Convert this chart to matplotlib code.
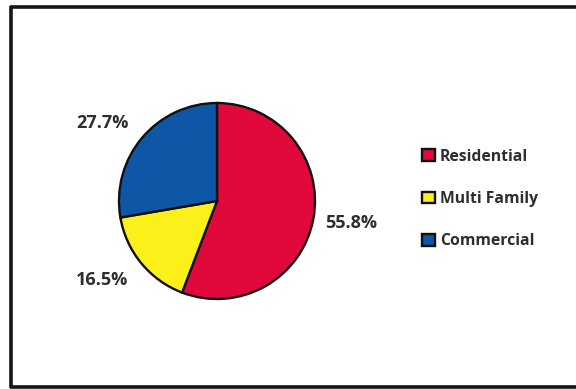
import matplotlib
matplotlib.use("Agg")
import numpy as np
import matplotlib.pyplot as plt
from matplotlib.lines import Line2D

categories = ["Residential", "Multi Family", "Commercial"]
shares = [55.8, 16.5, 27.7]
colors = ["#E1083C", "#FBF01A", "#0E56A6"]

# Label placement around the pie (radial distance, angular nudge in degrees)
label_dist = [1.39, 1.42, 1.41]
label_nudge = [1.0, -5.0, 6.0]

plt.rcParams["font.family"] = ["Open Sans", "DejaVu Sans"]
TEXT = "#2E2E2E"

W, H = 576, 389
fig = plt.figure(figsize=(W / 100, H / 100), dpi=100)
fig.patch.set_facecolor("white")

def fx(px):
    return px / W

def fy(py):
    return 1 - py / H

# Frame around the chart (open on the right side)
frame_kw = dict(color="#151515", lw=2.6, solid_capstyle="butt")
fig.add_artist(Line2D([fx(11), fx(11)], [fy(6), fy(388)], **frame_kw))
fig.add_artist(Line2D([fx(10), fx(576)], [fy(7), fy(7)], **frame_kw))
fig.add_artist(Line2D([fx(10), fx(576)], [fy(387), fy(387)], **frame_kw))

# Pie axes: centre at (217, 201) px, radius 98 px
cx, cy, r = 217, 201, 98
ax = fig.add_axes([fx(cx - r), fy(cy + r), 2 * r / W, 2 * r / H])
wedges, _, autotexts = ax.pie(
    shares,
    colors=colors,
    startangle=90,
    counterclock=False,
    autopct="%.1f%%",
    pctdistance=1.4,
    wedgeprops=dict(edgecolor="#111111", linewidth=1.7),
    textprops=dict(fontsize=13, fontweight="bold", color=TEXT),
)
ax.set_xlim(-1, 1)
ax.set_ylim(-1, 1)
ax.set_aspect("equal")

for w, t, d, nudge in zip(wedges, autotexts, label_dist, label_nudge):
    ang = np.deg2rad((w.theta1 + w.theta2) / 2 + nudge)
    t.set_position((d * np.cos(ang), d * np.sin(ang)))
    t.set_clip_on(False)

leg = fig.legend(
    wedges,
    categories,
    loc="center left",
    bbox_to_anchor=(fx(422), fy(199)),
    frameon=False,
    prop=dict(size=11.3, weight="bold"),
    labelcolor=TEXT,
    handlelength=0.8,
    handleheight=0.75,
    handletextpad=0.35,
    labelspacing=1.68,
    borderpad=0,
    borderaxespad=0,
)

fig.savefig("out.png", dpi=100, facecolor="white")
